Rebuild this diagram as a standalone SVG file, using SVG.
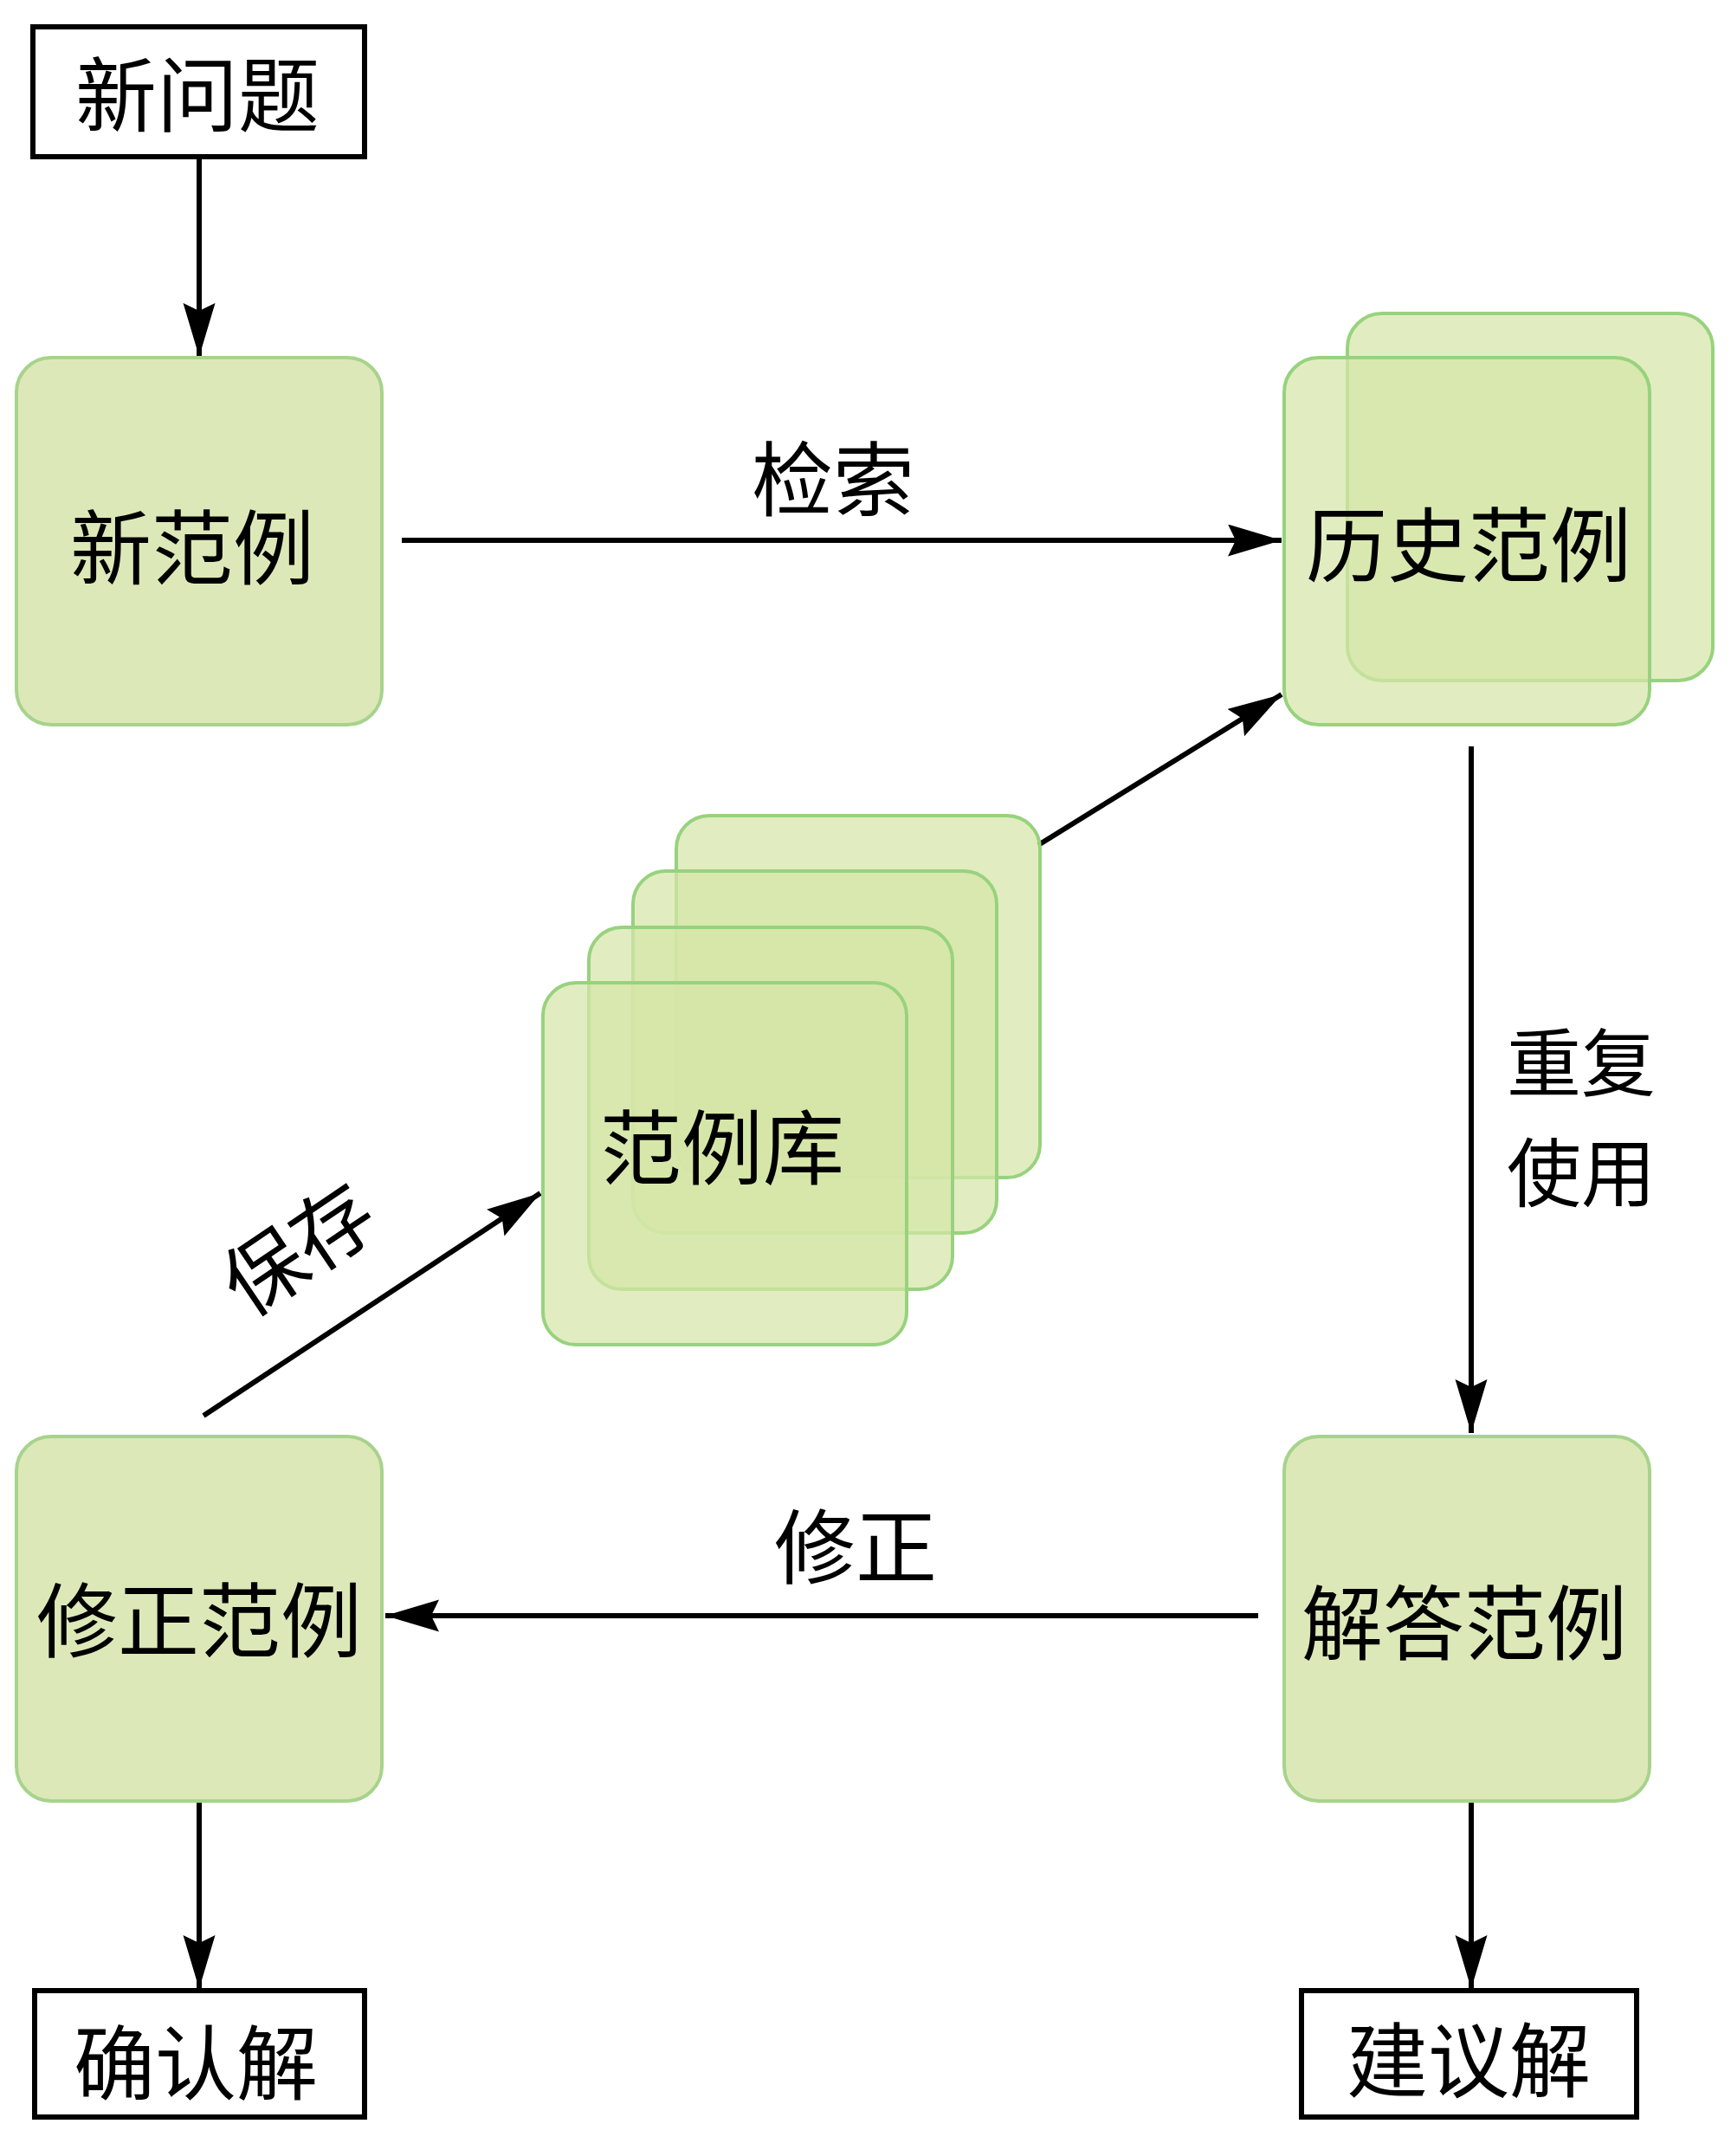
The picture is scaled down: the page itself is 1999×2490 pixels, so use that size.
<svg xmlns="http://www.w3.org/2000/svg" width="1999" height="2490" viewBox="0 0 1999 2490">
<defs>
<marker id="ah" markerUnits="userSpaceOnUse" markerWidth="66" markerHeight="40" refX="62" refY="18.5" orient="auto">
<path d="M0,0 L62,18.5 L0,37 L9,18.5 z" fill="#000"/>
</marker>
</defs>
<style>
.t{font-family:"Noto Sans CJK SC","Noto Sans",sans-serif;font-size:94px;fill:#000;text-anchor:middle;dominant-baseline:central}
.s{font-size:86px}
.box{fill:#dde8b8;stroke:#a7d38c;stroke-width:4}
.stk{fill:#d6e6a8;fill-opacity:0.72;stroke:#98d27e;stroke-width:4}
.plain{fill:#fff;stroke:#000;stroke-width:6}
.c{stroke:#000;stroke-width:6;fill:none;marker-end:url(#ah)}
</style>
<rect width="1999" height="2490" fill="#fff"/>
<g id="connectors">
<line class="c" x1="230" y1="183" x2="230" y2="412"/>
<line class="c" x1="464" y1="624" x2="1480" y2="624"/>
<line class="c" x1="1199" y1="976" x2="1480" y2="802"/>
<line class="c" x1="1699" y1="862" x2="1699" y2="1655"/>
<line class="c" x1="1453" y1="1866" x2="445" y2="1866"/>
<line class="c" x1="235" y1="1635" x2="624" y2="1378"/>
<line class="c" x1="230" y1="2080" x2="230" y2="2297"/>
<line class="c" x1="1699" y1="2080" x2="1699" y2="2297"/>
<text class="t" x="962" y="548">检索</text>
<text class="t s" x="1826" y="1222">重复</text>
<text class="t s" x="1826" y="1349">使用</text>
<text class="t" x="988" y="1781">修正</text>
<text class="t" x="341" y="1437" transform="rotate(-34 341 1437)">保存</text>
</g>
<g id="n-newproblem">
<rect class="plain" x="38" y="31" width="383" height="150"/>
<text class="t" x="228" y="104">新问题</text>
</g>
<g id="n-newcase">
<rect class="box" x="19" y="413" width="422" height="424" rx="40"/>
<text class="t" x="222" y="627">新范例</text>
</g>
<g id="n-history">
<rect class="stk" x="1556" y="362" width="422" height="424" rx="40"/>
<rect class="stk" x="1483" y="413" width="422" height="424" rx="40"/>
<text class="t" x="1696" y="624">历史范例</text>
</g>
<g id="n-casebase">
<rect class="stk" x="781" y="942" width="420" height="418" rx="38"/>
<rect class="stk" x="731" y="1006" width="420" height="418" rx="38"/>
<rect class="stk" x="680" y="1071" width="420" height="418" rx="38"/>
<rect class="stk" x="627" y="1135" width="420" height="418" rx="38"/>
<text class="t" x="834" y="1320">范例库</text>
</g>
<g id="n-answer">
<rect class="box" x="1483" y="1659" width="422" height="421" rx="40"/>
<text class="t" x="1691" y="1869">解答范例</text>
</g>
<g id="n-revised">
<rect class="box" x="19" y="1659" width="422" height="421" rx="40"/>
<text class="t" x="230" y="1866">修正范例</text>
</g>
<g id="n-confirmed">
<rect class="plain" x="40" y="2299" width="381" height="146"/>
<text class="t" x="226" y="2377">确认解</text>
</g>
<g id="n-suggested">
<rect class="plain" x="1503" y="2299" width="387" height="146"/>
<text class="t" x="1696" y="2374">建议解</text>
</g>
</svg>
